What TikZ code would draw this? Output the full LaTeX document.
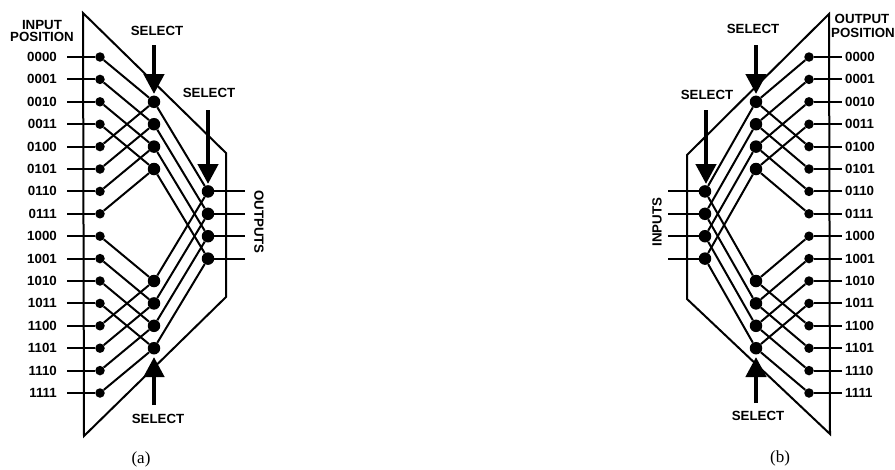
\documentclass[tikz,border=0pt]{standalone}
\usepackage{fontspec}
\setmainfont{Liberation Sans}
\newfontfamily\capfont{Liberation Serif}
\usetikzlibrary{arrows.meta}
\tikzset{
  wire/.style={line width=2pt},
  frame/.style={line width=2pt, line join=miter},
  smalldot/.style={circle, fill=black, inner sep=0pt, minimum size=9.5pt},
  bigdot/.style={circle, fill=black, inner sep=0pt, minimum size=12.5pt},
  lbl/.style={font=\fontsize{13.3}{15}\selectfont\bfseries, inner sep=0pt},
  captext/.style={font=\fontsize{17}{19}\selectfont\capfont, inner sep=0pt},
  selarrow/.style={line width=4.4pt, -{Triangle[width=20pt,length=20pt]}},
}
\begin{document}
\begin{tikzpicture}[x=1pt,y=-1pt]
\useasboundingbox (0,0) rectangle (895,469);

% ---------------- (a) input side ----------------
\draw[frame] (83,13) -- (226,153) -- (226,297) -- (84,436) -- cycle;

\foreach \lab [count=\n from 0] in {0000,0001,0010,0011,0100,0101,0110,0111,1000,1001,1010,1011,1100,1101,1110,1111}{
  \pgfmathsetmacro\yy{57+22.4*\n}
  \node[smalldot] (aL\n) at (100,\yy) {};
  \coordinate (aIn\n) at (67,\yy);
  \node[lbl, anchor=east] (aLab\n) at (57,\yy) {\lab};
  \draw[wire] (aIn\n) -- (aL\n);
}
\foreach \n in {2,3,4,5,10,11,12,13}{
  \pgfmathsetmacro\yy{57+22.4*\n}
  \node[bigdot] (aM\n) at (154,\yy) {};
}
\foreach \n in {6,7,8,9}{
  \pgfmathsetmacro\yy{57+22.4*\n}
  \node[bigdot] (aO\n) at (208,\yy) {};
  \coordinate (aOut\n) at (245,\yy);
  \draw[wire] (aO\n) -- (aOut\n);
}
% first stage
\foreach \n [evaluate=\n as \m using int(\n+2)] in {0,1,2,3,8,9,10,11}{
  \draw[wire] (aL\n) -- (aM\m);
}
\foreach \n [evaluate=\n as \m using int(\n-2)] in {4,5,6,7,12,13,14,15}{
  \draw[wire] (aL\n) -- (aM\m);
}
% second stage
\foreach \n [evaluate=\n as \m using int(\n+4)] in {2,3,4,5}{
  \draw[wire] (aM\n) -- (aO\m);
}
\foreach \n [evaluate=\n as \m using int(\n-4)] in {10,11,12,13}{
  \draw[wire] (aM\n) -- (aO\m);
}
% select arrows
\coordinate (aS1a) at (154,45);  \coordinate (aS1b) at (154,94);
\coordinate (aS2a) at (208,110); \coordinate (aS2b) at (208,184);
\coordinate (aS3a) at (154,405); \coordinate (aS3b) at (154,357);
\draw[selarrow] (aS1a) -- (aS1b);
\draw[selarrow] (aS2a) -- (aS2b);
\draw[selarrow] (aS3a) -- (aS3b);
\node[lbl] (aSel1) at (157,31) {SELECT};
\node[lbl] (aSel2) at (209,93) {SELECT};
\node[lbl] (aSel3) at (158,419) {SELECT};
\node[lbl] (aHead1) at (42,25) {INPUT};
\node[lbl] (aHead2) at (42,37) {POSITION};
\node[lbl, rotate=-90] (aOuts) at (259,222) {OUTPUTS};
\node[captext] (aCap) at (141,459) {(a)};

% ---------------- (b) output side ----------------
\draw[frame] (829,14) -- (687,155) -- (687,299) -- (830,434) -- cycle;

\foreach \lab [count=\n from 0] in {0000,0001,0010,0011,0100,0101,0110,0111,1000,1001,1010,1011,1100,1101,1110,1111}{
  \pgfmathsetmacro\yy{57+22.4*\n}
  \node[smalldot] (bR\n) at (809,\yy) {};
  \coordinate (bOut\n) at (842,\yy);
  \node[lbl, anchor=west] (bLab\n) at (845,\yy) {\lab};
  \draw[wire] (bR\n) -- (bOut\n);
}
\foreach \n in {2,3,4,5,10,11,12,13}{
  \pgfmathsetmacro\yy{57+22.4*\n}
  \node[bigdot] (bM\n) at (756,\yy) {};
}
\foreach \n in {6,7,8,9}{
  \pgfmathsetmacro\yy{57+22.4*\n}
  \node[bigdot] (bI\n) at (705,\yy) {};
  \coordinate (bIn\n) at (668,\yy);
  \draw[wire] (bIn\n) -- (bI\n);
}
\foreach \n [evaluate=\n as \m using int(\n+2)] in {0,1,2,3,8,9,10,11}{
  \draw[wire] (bR\n) -- (bM\m);
}
\foreach \n [evaluate=\n as \m using int(\n-2)] in {4,5,6,7,12,13,14,15}{
  \draw[wire] (bR\n) -- (bM\m);
}
\foreach \n [evaluate=\n as \m using int(\n+4)] in {2,3,4,5}{
  \draw[wire] (bM\n) -- (bI\m);
}
\foreach \n [evaluate=\n as \m using int(\n-4)] in {10,11,12,13}{
  \draw[wire] (bM\n) -- (bI\m);
}
\coordinate (bS1a) at (756,45);  \coordinate (bS1b) at (756,94);
\coordinate (bS2a) at (706,110); \coordinate (bS2b) at (706,184);
\coordinate (bS3a) at (756,403); \coordinate (bS3b) at (756,357);
\draw[selarrow] (bS1a) -- (bS1b);
\draw[selarrow] (bS2a) -- (bS2b);
\draw[selarrow] (bS3a) -- (bS3b);
\node[lbl] (bSel1) at (753,29) {SELECT};
\node[lbl] (bSel2) at (707,95) {SELECT};
\node[lbl] (bSel3) at (758,416) {SELECT};
\node[lbl] (bHead1) at (862,19) {OUTPUT};
\node[lbl] (bHead2) at (863,33) {POSITION};
\node[lbl, rotate=90] (bIns) at (657,222) {INPUTS};
\node[captext] (bCap) at (780,458) {(b)};
\end{tikzpicture}
\end{document}
